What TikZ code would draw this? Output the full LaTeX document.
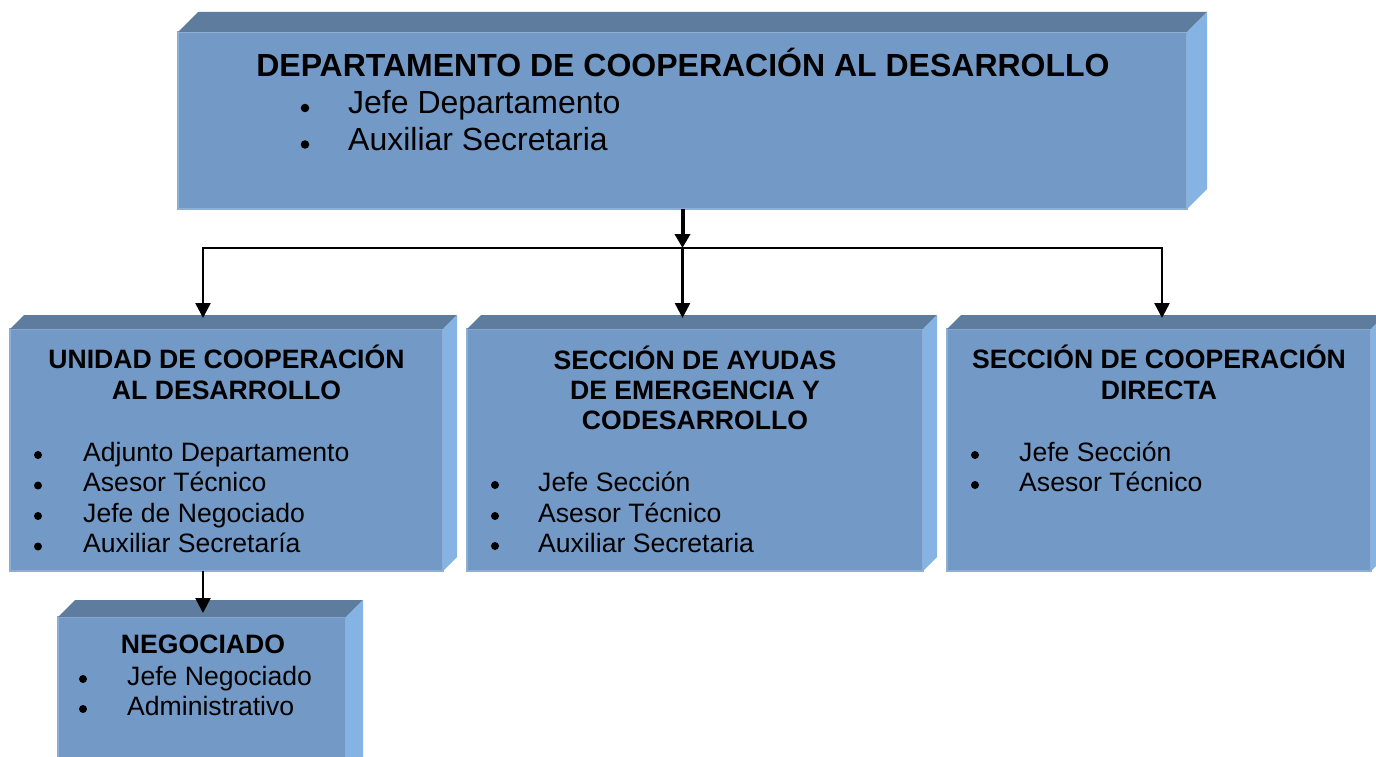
\documentclass[tikz,border=0pt]{standalone}
\usepackage{fontspec}
\setmainfont{Liberation Sans}
\usetikzlibrary{arrows.meta}
\definecolor{frontc}{HTML}{7399C6}
\definecolor{topc}{HTML}{5D7C9E}
\definecolor{sidec}{HTML}{85B3E3}
\definecolor{edgec}{HTML}{8DAFD6}
\newcommand\boxfaces[2]{%
  \fill[topc] (#1.north west) -- ++(#2,-#2) -- ([shift={(#2,-#2)}]#1.north east) -- (#1.north east) -- cycle;
  \fill[sidec] (#1.north east) -- ++(#2,-#2) -- ([shift={(#2,-#2)}]#1.south east) -- (#1.south east) -- cycle;}
\newcommand\ttl[4]{\node[ttlstyle] (#1) at (#2,#3) {#4};}
\newcommand\bigttl[4]{\node[bigttlstyle] (#1) at (#2,#3) {#4};}
\newcommand\itm[6]{% name, bullet x, text x, baseline, bullet rise, text
  \node[dotstyle] (#1b) at ({#2},{#4-#5}) {};
  \node[itmstyle] (#1) at (#3,#4) {#6};}
\newcommand\bigitm[6]{%
  \node[dotstyle, minimum size=8.5pt] (#1b) at ({#2},{#4-#5}) {};
  \node[bigitmstyle] (#1) at (#3,#4) {#6};}
\begin{document}
\begin{tikzpicture}[x=1pt,y=-1pt,
  front/.style={draw=edgec, line width=1.2pt, fill=frontc, rectangle, inner sep=0pt, outer sep=0pt, anchor=north west},
  ttlstyle/.style={font=\bfseries\fontsize{26.6}{30}\selectfont, anchor=base, inner sep=0pt},
  bigttlstyle/.style={font=\bfseries\fontsize{32}{35}\selectfont, anchor=base, inner sep=0pt},
  itmstyle/.style={font=\fontsize{26.6}{30}\selectfont, anchor=base west, inner sep=0pt},
  bigitmstyle/.style={font=\fontsize{32}{35}\selectfont, anchor=base west, inner sep=0pt},
  dotstyle/.style={circle, fill=black, minimum size=8pt, inner sep=0pt},
  bigarr/.style={line width=4pt, -{Triangle[length=14pt,width=15pt]}},
  arr/.style={line width=2.5pt, -{Triangle[length=15pt,width=15pt]}},
  conn/.style={line width=2.5pt, line cap=rect}]
\useasboundingbox (0,0) rectangle (1376,757);

% boxes
\node[front, minimum width=1009pt, minimum height=177pt] (dep) at (178,32) {};
\boxfaces{dep}{20}
\node[front, minimum width=433pt, minimum height=242pt] (unid) at (10,329) {};
\boxfaces{unid}{14}
\node[front, minimum width=456pt, minimum height=242pt] (ayud) at (467,329) {};
\boxfaces{ayud}{14}
\node[front, minimum width=424pt, minimum height=242pt] (dire) at (947,329) {};
\boxfaces{dire}{14}
\node[front, minimum width=288pt, minimum height=160pt] (nego) at (58,617) {};
\boxfaces{nego}{17}

% texts: top box
\bigttl{dept}{683}{77}{DEPARTAMENTO DE COOPERACIÓN AL DESARROLLO}
\bigitm{d1}{305}{348}{113.5}{5.5}{Jefe Departamento}
\bigitm{d2}{305}{348}{150}{5.5}{Auxiliar Secretaria}

% unidad
\ttl{ut1}{226.5}{368}{UNIDAD DE COOPERACIÓN}
\ttl{ut2}{226.5}{399}{AL DESARROLLO}
\itm{u1}{38}{83}{461}{6}{Adjunto Departamento}
\itm{u2}{38}{83}{491.5}{6}{Asesor Técnico}
\itm{u3}{38}{83}{522}{6}{Jefe de Negociado}
\itm{u4}{38}{83}{552.5}{6}{Auxiliar Secretaría}

% ayudas
\ttl{at1}{695}{369}{SECCIÓN DE AYUDAS}
\ttl{at2}{695}{399}{DE EMERGENCIA Y}
\ttl{at3}{695}{429}{CODESARROLLO}
\itm{a1}{495}{538}{491}{6}{Jefe Sección}
\itm{a2}{495}{538}{522}{6}{Asesor Técnico}
\itm{a3}{495}{538}{552}{6}{Auxiliar Secretaria}

% directa
\ttl{rt1}{1159}{368}{SECCIÓN DE COOPERACIÓN}
\ttl{rt2}{1159}{399}{DIRECTA}
\itm{r1}{975}{1019}{461}{6}{Jefe Sección}
\itm{r2}{975}{1019}{491}{6}{Asesor Técnico}

% negociado
\ttl{nt1}{203}{653}{NEGOCIADO}
\itm{n1}{83}{127}{685}{6}{Jefe Negociado}
\itm{n2}{83}{127}{715}{6}{Administrativo}

% connectors
\coordinate (hub) at (682.5,248);
\coordinate (jl) at (203,248);
\coordinate (jr) at (1162,248);
\coordinate (utop) at (203,318);
\coordinate (mtop) at (682.5,318);
\coordinate (rtop) at (1162,318);
\coordinate (ntop) at (203,613);
\draw[bigarr] (dep) -- (hub);
\draw[conn] (jl) -- (jr);
\draw[arr] (jl) -- (utop);
\draw[arr] (hub) -- (mtop);
\draw[arr] (jr) -- (rtop);
\draw[arr] (unid.south -| ntop) -- (ntop);
\end{tikzpicture}
\end{document}
